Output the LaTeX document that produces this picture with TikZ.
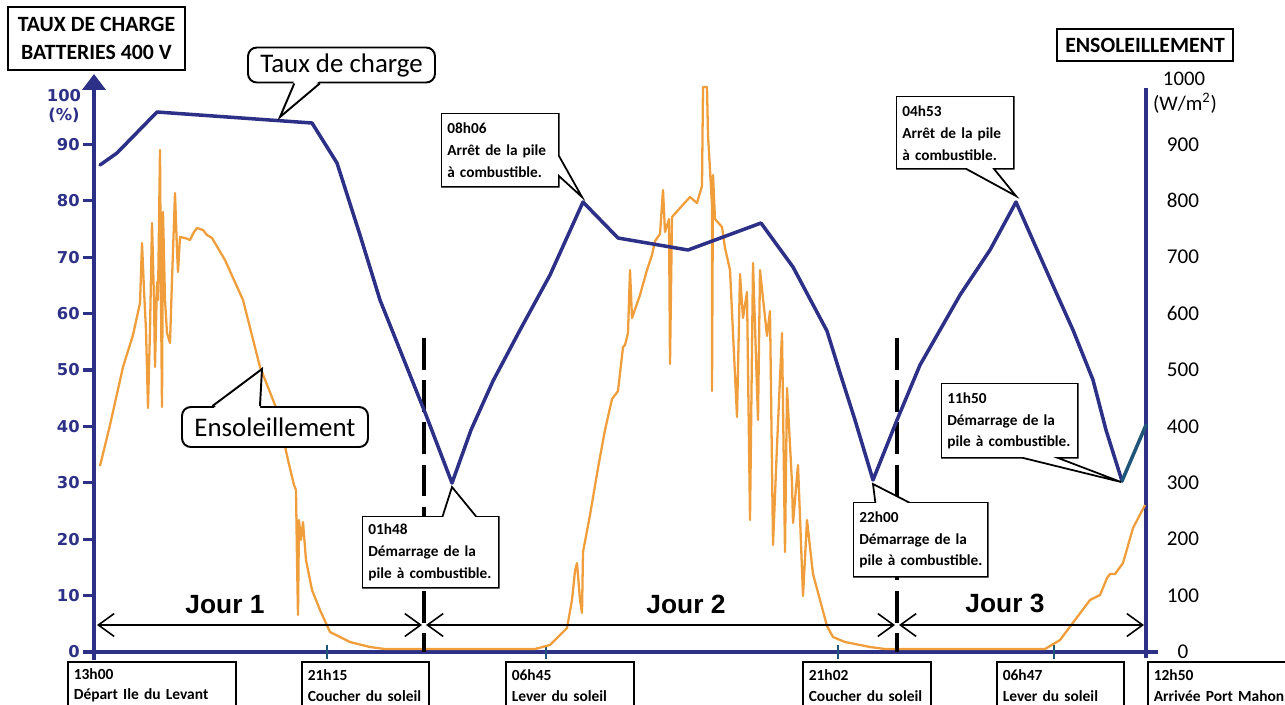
\documentclass[tikz,border=0pt]{standalone}
\usepackage{fontspec}
\setmainfont{Carlito}
\newfontfamily\jourfont{Liberation Sans}
\newfontfamily\tickfont{DejaVu Sans}
\usetikzlibrary{arrows.meta,calc}
\definecolor{navy}{RGB}{44,48,135}
\definecolor{sunor}{RGB}{240,158,60}
\definecolor{tealc}{RGB}{30,85,120}
\begin{document}
\lefthyphenmin=62\relax
\hyphenpenalty=10000\relax
\begin{tikzpicture}[x=0.02cm,y=-0.02cm,
  navyline/.style={draw=navy, line width=2pt, line join=round, line cap=round},
  sunline/.style={draw=sunor, line width=1.3pt, line join=round},
  axisline/.style={draw=navy, line width=2.2pt},
  daydash/.style={draw=black, line width=2pt, dash pattern=on 18pt off 6pt},
  dayarrow/.style={draw=black, line width=0.9pt, {Straight Barb[length=9pt,width=13pt]}-{Straight Barb[length=9pt,width=13pt]}},
  daylabel/.style={font=\jourfont\bfseries\fontsize{15}{18}\selectfont, inner sep=0pt},
  lefttick/.style={anchor=east, text=navy, font=\tickfont\bfseries\fontsize{9.3}{10}\selectfont, inner sep=0pt},
  righttick/.style={text=black, font=\fontsize{12}{14}\selectfont, inner sep=0pt},
  cbox/.style={fill=white, anchor=north west, align=left, inner xsep=0.1cm, inner ysep=1pt, font=\bfseries\fontsize{8.7}{12.5}\selectfont},
  cline/.style={draw=black, line width=1pt, line join=miter, fill=white},
  tbox/.style={draw=black, line width=0.9pt, fill=white, anchor=north west, align=left, inner xsep=0.12cm, inner ysep=1pt, minimum height=0.94cm, font=\bfseries\fontsize{8.8}{11.9}\selectfont},
  titlebox/.style={draw=black, line width=1.1pt, align=center, font=\bfseries\fontsize{12.4}{16}\selectfont},
  bubble/.style={draw=black, line width=1.1pt, fill=white, rounded corners=5pt, font=\fontsize{15.3}{17}\selectfont},
  pointer/.style={draw=black, line width=1.1pt, line join=miter}
]
\useasboundingbox (0,0) rectangle (1285,704);
\clip (0,0) rectangle (1285,704);

% ---------- axes ----------
\draw[axisline] (94,652) -- (1158,652);
\draw[axisline, -{Triangle[length=9pt,width=13pt]}] (94,660) -- (94,74);
\draw[axisline] (1146,88) -- (1146,658);
\foreach \k in {0,...,9} \draw[navy, line width=1.8pt] (83,{652-56.4*\k}) -- (94,{652-56.4*\k});
\foreach \x in {327,546,838,1054} \draw[tealc, line width=1.2pt] (\x,645) -- (\x,659);

\foreach \k/\l in {0/0,1/10,2/20,3/30,4/40,5/50,6/60,7/70,8/80,9/90}
  \node[lefttick] (lt\k) at (80,{652-56.4*\k}) {\l};
\node[text=navy, font=\tickfont\bfseries\fontsize{9.3}{10.5}\selectfont, align=center, inner sep=0pt] (lt10) at (64,106) {100\\(\%)};

\foreach \k/\l in {0/0,1/100,2/200,3/300,4/400,5/500,6/600,7/700,8/800,9/900}
  \node[righttick] (rt\k) at (1183,{652-56.4*\k}) {\l};
\node[righttick, font=\fontsize{11.8}{13}\selectfont] (rt10) at (1184,79) {1000};
\node[righttick, font=\fontsize{11.8}{13}\selectfont] (rt10u) at (1185,103) {(W/m\textsuperscript{2})};

% ---------- sunshine curve ----------
\draw[sunline] plot coordinates {(100,466) (110,425) (123,367) (133,335) (140,303) (142,243) (144,290) (146,330) (148,408) (150,330) (152,223) (154,300) (155,367) (157,282) (158,300) (160,150) (161,300) (162,407) (163,212) (165,300) (167,333) (170,343) (172,280) (175,193) (177,250) (178,272) (180,237) (185,238) (190,240) (194,232) (197,228) (203,230) (207,235) (212,238) (225,260) (243,300) (260,367) (277,410) (288,460) (294,485) (296,490) (297,560) (298,615) (299,520) (301,540) (303,522) (306,560) (312,590) (320,610) (330,632) (350,642) (370,647) (385,649) (535,649) (550,645) (567,628) (572,600) (575,571) (577,563) (580,600) (582,613) (583,552) (590,515) (598,468) (605,430) (612,399) (618,391) (623,347) (625,345) (628,333) (630,270) (632,318) (640,295) (647,270) (652,255) (655,241) (660,234) (663,190) (665,232) (669,219) (670,364) (672,217) (680,208) (690,197) (697,203) (702,186) (703,87) (707,87) (708,135) (710,170) (712,205) (712,391) (713,175) (715,219) (722,227) (725,248) (730,270) (737,417) (740,274) (743,318) (747,292) (750,520) (753,263) (758,420) (760,270) (767,336) (770,311) (773,545) (777,446) (782,333) (785,552) (787,388) (792,483) (793,523) (798,465) (803,596) (807,520) (813,574) (820,600) (827,626) (833,637) (845,642) (870,647) (885,649) (1045,649) (1060,640) (1075,620) (1090,600) (1100,595) (1107,578) (1110,574) (1115,574) (1123,563) (1133,528) (1145,505)};

% ---------- day separators ----------
\coordinate (d1t) at (424,338); \coordinate (d1b) at (424,652);
\coordinate (d2t) at (897,338); \coordinate (d2b) at (897,652);
\draw[daydash] (d1t) -- (d1b);
\draw[daydash] (d2t) -- (d2b);

% ---------- state of charge ----------
\draw[navyline] plot coordinates {(100,165) (117,153) (157,112) (312,123) (337,163) (360,235) (380,300) (426,415) (452,483) (471,430) (493,381) (520,330) (550,275) (583,202) (618,238) (688,250) (761,223) (793,267) (827,331) (840,373) (855,420) (873,480) (897,420) (920,365) (940,330) (960,295) (990,250) (1016,202) (1035,245) (1055,290) (1073,330) (1093,380) (1106,430) (1122,481)};
\draw[draw=tealc, line width=2pt, line cap=round] (1122,481) -- (1146,425);

% ---------- day arrows ----------
\coordinate (j1a) at (97,625); \coordinate (j1b) at (422,625);
\coordinate (j2a) at (426,625); \coordinate (j2b) at (895,625);
\coordinate (j3a) at (899,625); \coordinate (j3b) at (1144,625);
\draw[dayarrow] (j1a) -- (j1b);
\draw[dayarrow] (j2a) -- (j2b);
\draw[dayarrow] (j3a) -- (j3b);
\node[daylabel] (jour1) at (225,605) {Jour 1};
\node[daylabel] (jour2) at (686,604) {Jour 2};
\node[daylabel] (jour3) at (1005,603) {Jour 3};

% ---------- title boxes ----------
\node[titlebox, minimum width=3.54cm, minimum height=1.26cm] (tb1) at (96.5,38.5) {TAUX DE CHARGE\\BATTERIES 400 V};
\node[titlebox, minimum width=3.52cm, minimum height=0.64cm] (tb2) at (1145,45) {ENSOLEILLEMENT};

% ---------- bubbles ----------
\node[bubble, minimum width=3.74cm, minimum height=0.68cm] (bt) at (341.5,65) {Taux de charge};
\coordinate (btt) at (280,117);
\coordinate (bta) at ($(bt.south west)!0.25!(bt.south east)$);
\coordinate (btb) at ($(bt.south west)!0.385!(bt.south east)$);
\fill[white] ($(bta)+(0,-3)$) -- (btt) -- ($(btb)+(0,-3)$) -- cycle;
\draw[pointer] (bta) -- (btt) -- (btb);

\node[bubble, minimum width=3.72cm, minimum height=0.8cm] (be) at (275,427) {Ensoleillement};
\coordinate (bet) at (262,369);
\coordinate (bea) at ($(be.north west)!0.167!(be.north east)$);
\coordinate (beb) at ($(be.north west)!0.42!(be.north east)$);
\fill[white] ($(bea)+(0,3)$) -- (bet) -- ($(beb)+(0,3)$) -- cycle;
\draw[pointer] (bea) -- (bet) -- (beb);

% ---------- callouts ----------
\node[cbox, text width=2.12cm, minimum height=1.44cm] (c1) at (442,114) {08h06\\Arrêt~de~la~pile\\à~combustible.};
\coordinate (t1) at (582,197);
\draw[cline] (c1.north west) -- (c1.north east) -- ($(c1.north east)!0.57!(c1.south east)$) -- (t1) -- ($(c1.north east)!0.85!(c1.south east)$) -- (c1.south east) -- (c1.south west) -- cycle;
\node[cbox, text width=2.12cm, minimum height=1.44cm] (c1t) at (442,114) {08h06\\Arrêt~de~la~pile\\à~combustible.};

\node[cbox, text width=2.12cm, minimum height=1.42cm] (c2) at (897,97) {04h53\\Arrêt~de~la~pile\\à~combustible.};
\coordinate (t2) at (1016,196);
\draw[cline] (c2.north west) -- (c2.north east) -- (c2.south east) -- ($(c2.south west)!0.83!(c2.south east)$) -- (t2) -- ($(c2.south west)!0.59!(c2.south east)$) -- (c2.south west) -- cycle;
\node[cbox, text width=2.12cm, minimum height=1.42cm] (c2t) at (897,97) {04h53\\Arrêt~de~la~pile\\à~combustible.};

\node[cbox, text width=2.5cm, minimum height=1.40cm] (c3) at (363,517) {01h48\\Démarrage~de~la\\pile~à~combustible.};
\coordinate (t3) at (452,487);
\draw[cline] (c3.north west) -- ($(c3.north west)!0.585!(c3.north east)$) -- (t3) -- ($(c3.north west)!0.837!(c3.north east)$) -- (c3.north east) -- (c3.south east) -- (c3.south west) -- cycle;
\node[cbox, text width=2.5cm, minimum height=1.40cm] (c3t) at (363,517) {01h48\\Démarrage~de~la\\pile~à~combustible.};

\node[cbox, text width=2.46cm, minimum height=1.46cm] (c4) at (854,503) {22h00\\Démarrage~de~la\\pile~à~combustible.};
\coordinate (t4) at (873,484);
\draw[cline] (c4.north west) -- ($(c4.north west)!0.16!(c4.north east)$) -- (t4) -- ($(c4.north west)!0.42!(c4.north east)$) -- (c4.north east) -- (c4.south east) -- (c4.south west) -- cycle;
\node[cbox, text width=2.46cm, minimum height=1.46cm] (c4t) at (854,503) {22h00\\Démarrage~de~la\\pile~à~combustible.};

\node[cbox, text width=2.5cm, minimum height=1.46cm] (c5) at (942,384) {11h50\\Démarrage~de~la\\pile~à~combustible.};
\coordinate (t5) at (1121,482);
\draw[cline] (c5.north west) -- (c5.north east) -- (c5.south east) -- ($(c5.south west)!0.85!(c5.south east)$) -- (t5) -- ($(c5.south west)!0.59!(c5.south east)$) -- (c5.south west) -- cycle;
\node[cbox, text width=2.5cm, minimum height=1.46cm] (c5t) at (942,384) {11h50\\Démarrage~de~la\\pile~à~combustible.};

% ---------- bottom time boxes ----------
\node[tbox, text width=3.12cm] (b1) at (67,661) {13h00\\Départ~Ile~du~Levant};
\node[tbox, text width=2.30cm] (b2) at (301,661) {21h15\\Coucher~du~soleil};
\node[tbox, text width=2.32cm] (b3) at (505,661) {06h45\\Lever~du~soleil};
\node[tbox, text width=2.32cm] (b4) at (802,661) {21h02\\Coucher~du~soleil};
\node[tbox, text width=2.30cm] (b5) at (996,661) {06h47\\Lever~du~soleil};
\node[tbox, text width=2.60cm] (b6) at (1147,661) {12h50\\Arrivée~Port~Mahon};
\end{tikzpicture}
\end{document}
